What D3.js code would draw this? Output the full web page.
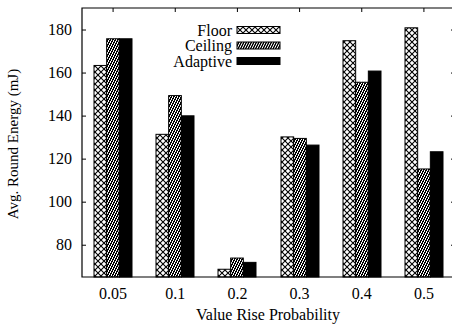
<!DOCTYPE html>
<html>
<head>
<meta charset="utf-8">
<script src="https://cdn.jsdelivr.net/npm/d3@7"></script>
<style>
  body { margin: 0; background: #fff; }
  svg { display: block; }
  svg text { font-family: "Liberation Serif", "DejaVu Serif", serif !important; font-size: 16px; fill: #000; }
</style>
</head>
<body>
<svg id="chart" width="452" height="328"></svg>
<script>
var categories = ["0.05", "0.1", "0.2", "0.3", "0.4", "0.5"];
var seriesNames = ["Floor", "Ceiling", "Adaptive"];
var floorVals = [163.3, 131.3, 68.6, 130.1, 174.8, 180.8];
var ceilingVals = [175.7, 149.3, 73.8, 129.4, 155.5, 115.2];
var adaptiveVals = [175.7, 139.9, 71.8, 126.3, 160.7, 123.2];
var yTicks = [80, 100, 120, 140, 160, 180];

var svg = d3.select("#chart");
var plotL = 82, plotR = 455, plotT = 8, plotB = 277;

var rows = categories.map(function (c, i) {
  return { cat: c, values: [floorVals[i], ceilingVals[i], adaptiveVals[i]] };
});

var defs = svg.append("defs");
var pFloor = defs.append("pattern")
  .attr("id", "pFloor").attr("patternUnits", "userSpaceOnUse")
  .attr("width", 6).attr("height", 6);
pFloor.append("rect").attr("width", 6).attr("height", 6).attr("fill", "#fff");
pFloor.append("path").attr("d", "M0,0L6,6M6,0L0,6")
  .attr("stroke", "#000").attr("stroke-width", 1.1).attr("fill", "none");

// fine dither for Ceiling: 5x5 tile, two white dots per row
var pCeil = defs.append("pattern")
  .attr("id", "pCeil").attr("patternUnits", "userSpaceOnUse")
  .attr("width", 5).attr("height", 5);
pCeil.append("rect").attr("width", 5).attr("height", 5).attr("fill", "#000");
d3.range(5).forEach(function (r) {
  [(2 * r) % 5, (2 * r + 3) % 5].forEach(function (c) {
    pCeil.append("rect").attr("x", c).attr("y", r).attr("width", 1).attr("height", 1)
      .attr("fill", "#fff").attr("shape-rendering", "crispEdges");
  });
});

var fills = ["url(#pFloor)", "url(#pCeil)", "#000"];

var x = d3.scaleBand().domain(categories).range([plotL, plotR]).paddingInner(0).paddingOuter(0);
var x1 = d3.scaleBand().domain(seriesNames).range([-19, 19]);
var y = d3.scaleLinear().domain([65, 190]).range([plotB, plotT]);

// axes
var gy = svg.append("g").attr("transform", "translate(" + plotL + ",0)")
  .call(d3.axisLeft(y).tickValues(yTicks).tickSize(-4).tickPadding(10));
gy.select(".domain").remove();

var gyr = svg.append("g").attr("transform", "translate(" + plotR + ",0)")
  .call(d3.axisRight(y).tickValues(yTicks).tickSize(-4).tickFormat(""));
gyr.select(".domain").remove();

var gxt = svg.append("g").attr("transform", "translate(0," + plotT + ")")
  .call(d3.axisTop(x).tickSize(-4).tickFormat(""));
gxt.select(".domain").remove();

var gx = svg.append("g").attr("transform", "translate(0," + plotB + ")")
  .call(d3.axisBottom(x).tickSize(-4).tickPadding(11));
gx.select(".domain").remove();

// bars (group offset snapped to whole pixels so the patterns stay crisp)
var groups = svg.append("g").selectAll("g").data(rows).join("g")
  .attr("transform", function (d) { return "translate(" + Math.round(x(d.cat) + x.bandwidth() / 2) + ",0)"; });
groups.selectAll("rect")
  .data(function (d) { return d.values.map(function (v, i) { return { key: seriesNames[i], v: v, i: i }; }); })
  .join("rect")
  .attr("x", function (d) { return x1(d.key); })
  .attr("y", function (d) { return y(d.v); })
  .attr("width", x1.bandwidth())
  .attr("height", function (d) { return plotB - y(d.v); })
  .attr("fill", function (d) { return fills[d.i]; })
  .attr("stroke", "#000").attr("stroke-width", 1);

// border
svg.append("path")
  .attr("d", "M" + plotR + "," + plotT + "H" + plotL + "V" + plotB + "H" + plotR)
  .attr("fill", "none").attr("stroke", "#000").attr("stroke-width", 1.2);

// legend
var leg = svg.append("g").selectAll("g").data(seriesNames).join("g")
  .attr("transform", function (d, i) { return "translate(0," + (30 + i * 15.5) + ")"; });
leg.append("text").attr("x", 232).attr("y", 0).attr("dy", "0.35em")
  .attr("text-anchor", "end").text(function (d) { return d; });
leg.append("rect").attr("x", 237).attr("y", -3.5).attr("width", 43).attr("height", 7)
  .attr("fill", function (d, i) { return fills[i]; }).attr("stroke", "#000").attr("stroke-width", 1);

// titles
svg.append("text").attr("x", 268).attr("y", 320).attr("text-anchor", "middle")
  .text("Value Rise Probability");
svg.append("text").attr("transform", "translate(18,144) rotate(-90)")
  .attr("text-anchor", "middle").style("font-size", "15px").text("Avg. Round Energy (mJ)");
</script>
</body>
</html>
